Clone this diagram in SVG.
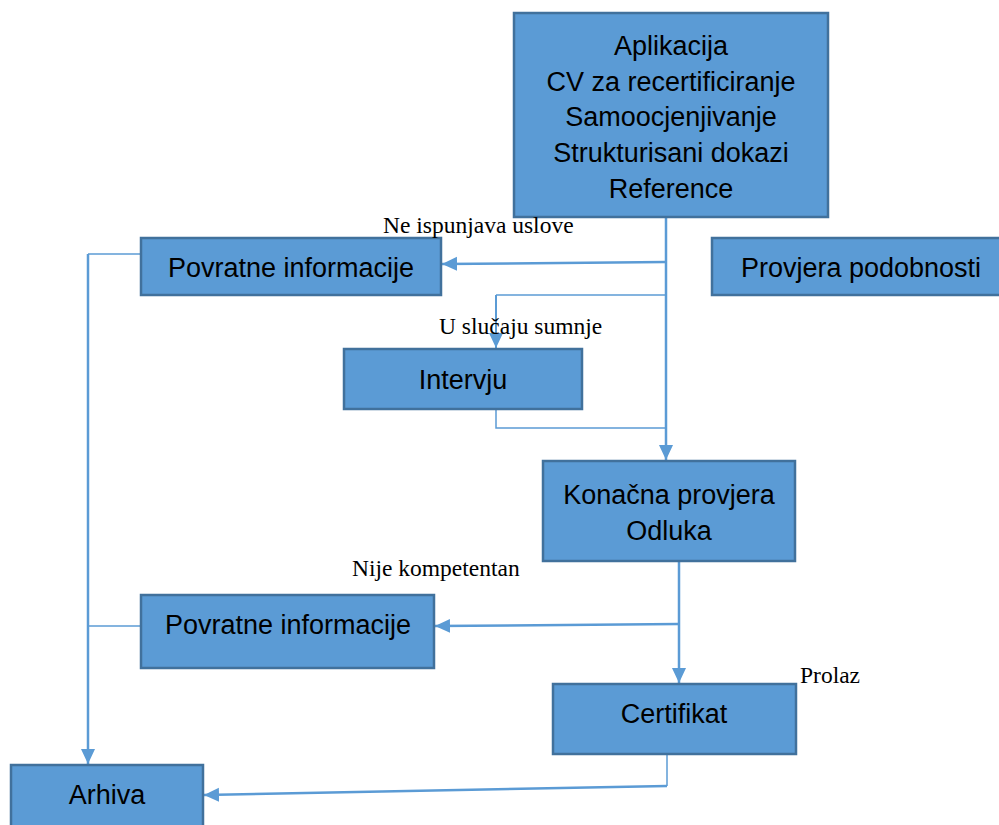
<svg xmlns="http://www.w3.org/2000/svg" width="999" height="825" viewBox="0 0 999 825">
<style>
.box{fill:#5B9BD5;stroke:#41719C;stroke-width:2.5}
.t{font-family:"Liberation Sans",Arial,sans-serif;font-size:27px;fill:#000;text-anchor:middle}
.lbl{font-family:"Liberation Serif","Times New Roman",serif;font-size:23.5px;fill:#000}
.c{fill:none;stroke:#5B9BD5;stroke-width:2.5}
.thin{fill:none;stroke:#5B9BD5;stroke-width:1.5}
</style>
<defs>
<marker id="ah" markerUnits="userSpaceOnUse" markerWidth="16" markerHeight="16" viewBox="0 0 16 16" refX="15" refY="8" orient="auto">
<path d="M0,1 L15,8 L0,15 z" fill="#5B9BD5"/>
</marker>
</defs>
<rect width="999" height="825" fill="#fff"/>
<g id="connectors">
<path class="c" d="M666,217 L666,460" marker-end="url(#ah)"/>
<path class="c" d="M666,262 L442,264" marker-end="url(#ah)"/>
<path class="thin" d="M666,295 L496,295"/>
<path class="c" d="M496,295 L496,348" marker-end="url(#ah)" style="stroke-width:2"/>
<path class="thin" d="M496,409 L496,428 L666,428"/>
<path class="thin" d="M141,254 L88,254"/>
<path class="c" d="M88,254 L88,764" marker-end="url(#ah)"/>
<path class="thin" d="M141,626 L88,626"/>
<path class="c" d="M679,561 L679,683" marker-end="url(#ah)"/>
<path class="c" d="M679,624 L435,626" marker-end="url(#ah)"/>
<path class="thin" d="M667,754 L667,786"/>
<path class="c" d="M667,786 L204,795" marker-end="url(#ah)"/>
</g>
<g id="aplikacija">
<rect class="box" x="514" y="13" width="314" height="204"/>
<text class="t" x="671" y="55">Aplikacija</text>
<text class="t" x="671" y="91">CV za recertificiranje</text>
<text class="t" x="671" y="126">Samoocjenjivanje</text>
<text class="t" x="671" y="162">Strukturisani dokazi</text>
<text class="t" x="671" y="198">Reference</text>
</g>
<g id="povratne1">
<rect class="box" x="141" y="238" width="300" height="57"/>
<text class="t" x="291" y="277">Povratne informacije</text>
</g>
<g id="provjera">
<rect class="box" x="712" y="238" width="292" height="57"/>
<text class="t" x="861" y="277">Provjera podobnosti</text>
</g>
<g id="intervju">
<rect class="box" x="344" y="349" width="238" height="60"/>
<text class="t" x="463" y="389">Intervju</text>
</g>
<g id="konacna">
<rect class="box" x="543" y="461" width="252" height="100"/>
<text class="t" x="669" y="504">Konačna provjera</text>
<text class="t" x="669" y="540">Odluka</text>
</g>
<g id="povratne2">
<rect class="box" x="141" y="595" width="293" height="73"/>
<text class="t" x="288" y="634">Povratne informacije</text>
</g>
<g id="certifikat">
<rect class="box" x="553" y="684" width="243" height="70"/>
<text class="t" x="674" y="723">Certifikat</text>
</g>
<g id="arhiva">
<rect class="box" x="11" y="765" width="192" height="70"/>
<text class="t" x="107" y="804">Arhiva</text>
</g>
<g id="labels">
<text class="lbl" x="383" y="233">Ne ispunjava uslove</text>
<text class="lbl" x="439" y="334">U slučaju sumnje</text>
<text class="lbl" x="352" y="576">Nije kompetentan</text>
<text class="lbl" x="800" y="683">Prolaz</text>
</g>
</svg>
